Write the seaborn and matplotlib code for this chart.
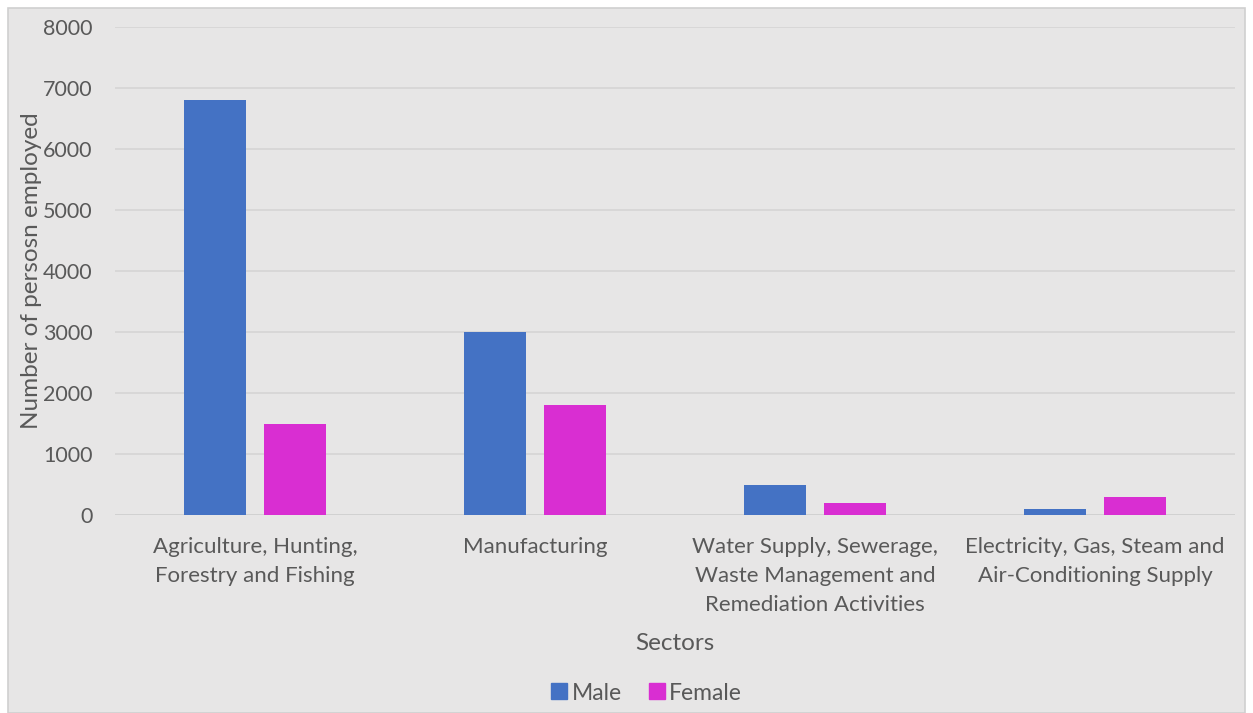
import matplotlib
matplotlib.use("Agg")
import matplotlib.pyplot as plt
import seaborn as sns
import pandas as pd
from matplotlib.patches import Rectangle
from matplotlib.lines import Line2D

sectors = ["Agriculture, Hunting,\nForestry and Fishing",
           "Manufacturing",
           "Water Supply, Sewerage,\nWaste Management and\nRemediation Activities",
           "Electricity, Gas, Steam and\nAir-Conditioning Supply"]
male = [6800, 3000, 500, 100]
female = [1500, 1800, 200, 300]
series = ["Male", "Female"]
colors = {"Male": "#4472C4", "Female": "#D92ED2"}

df = pd.DataFrame({
    "Sector": sectors * 2,
    "Gender": ["Male"] * len(sectors) + ["Female"] * len(sectors),
    "Value": male + female,
})

sns.set_theme(style="white")
plt.rcParams['font.family'] = ['Lato', 'DejaVu Sans']
txt = "#595959"
bg = "#E7E6E6"

fig = plt.figure(figsize=(12.53, 7.13), dpi=100)
fig.patch.set_facecolor("white")
fig.patches.append(Rectangle((8 / 1253, 0), 1 - 16 / 1253, 1 - 8 / 713,
                             transform=fig.transFigure, facecolor=bg,
                             edgecolor="#D0D0D0", linewidth=1.2, zorder=-10))
ax = fig.add_axes([115 / 1253, 1 - 515 / 713, 1120 / 1253, 488 / 713])
ax.set_facecolor(bg)

sns.barplot(data=df, x="Sector", y="Value", hue="Gender", hue_order=series,
            palette=colors, width=0.57, gap=0.22, ax=ax, legend=False,
            saturation=1, errorbar=None, zorder=3, linewidth=0)

ax.set_ylim(0, 8000)
ax.set_yticks(range(0, 8001, 1000))
ax.set_xlim(-0.5, len(sectors) - 0.5)
ax.yaxis.grid(True, color="#D5D5D5", linewidth=1.2, zorder=0)
ax.set_axisbelow(True)
for s in ax.spines.values():
    s.set_visible(False)
ax.axhline(0, color="#D0D0D0", linewidth=1.2, zorder=2)
ax.tick_params(axis="y", length=0, labelsize=15.5, colors=txt, pad=16)
ax.tick_params(axis="x", length=0, labelsize=16, colors=txt, pad=16)
for lab in ax.get_xticklabels():
    lab.set_linespacing(1.55)
ax.set_xlabel("")
ax.set_ylabel("")
fig.text(675 / 1253, 1 - 644 / 713, "Sectors", fontsize=17.5, color=txt,
         ha="center", va="center")
fig.text(32 / 1253, 1 - 271 / 713, "Number of persosn employed", fontsize=17.5,
         color=txt, ha="center", va="center", rotation=90)

handles = [Line2D([0], [0], marker="s", linestyle="", markersize=12,
                  markerfacecolor=colors[s], markeredgecolor=colors[s], label=s)
           for s in series]
fig.legend(handles=handles, loc="center", bbox_to_anchor=(645 / 1253, 1 - 693 / 713),
           ncol=2, frameon=False, fontsize=16.5, labelcolor=txt,
           handletextpad=0.05, columnspacing=1.0, handlelength=1.0)

fig.savefig("out.png", dpi=100, facecolor="white")
